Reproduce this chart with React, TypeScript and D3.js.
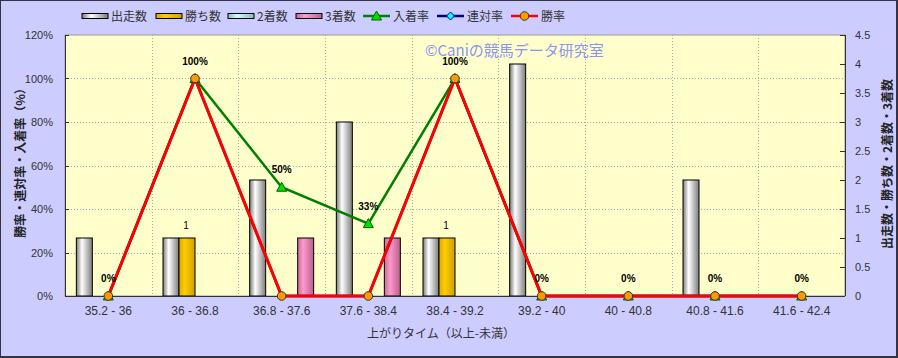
import React from 'react';
import * as d3 from 'd3';

const categories = ['35.2 - 36', '36 - 36.8', '36.8 - 37.6', '37.6 - 38.4', '38.4 - 39.2', '39.2 - 40', '40 - 40.8', '40.8 - 41.6', '41.6 - 42.4'];
const runs = [1, 1, 2, 3, 1, 4, 0, 2, 0];
const wins = [0, 1, 0, 0, 1, 0, 0, 0, 0];
const seconds = [0, 0, 0, 0, 0, 0, 0, 0, 0];
const thirds = [0, 0, 1, 1, 0, 0, 0, 0, 0];
const placeRate = [0, 100, 50, 33.3, 100, 0, 0, 0, 0];
const quinellaRate = [0, 100, 0, 0, 100, 0, 0, 0, 0];
const winRate = [0, 100, 0, 0, 100, 0, 0, 0, 0];
const leftTicks = [0, 20, 40, 60, 80, 100, 120];
const rightTicks = [0, 0.5, 1, 1.5, 2, 2.5, 3, 3.5, 4, 4.5];
const barNames = ['出走数', '勝ち数', '2着数', '3着数'];
const lineNames = ['入着率', '連対率', '勝率'];

const W = 898, H = 358;
const PL = 65, PR = 845, PT = 35, PB = 296;
const JP = '"Noto Sans CJK JP", sans-serif';
const LAT = '"Liberation Sans", Arial, sans-serif';

const barSeries = [runs, wins, seconds, thirds];
const barFills = ['url(#gWhite)', 'url(#gGold)', 'url(#gCyan)', 'url(#gPink)'];

function Triangle({ x, y }: { x: number; y: number }) {
  return <path d={`M${x},${y - 5} L${x + 5},${y + 4} L${x - 5},${y + 4} Z`} fill="#00e000" stroke="#006000" strokeWidth={1} />;
}
function Diamond({ x, y }: { x: number; y: number }) {
  return <path d={`M${x},${y - 4} L${x + 4},${y} L${x},${y + 4} L${x - 4},${y} Z`} fill="#00ffff" stroke="#000080" strokeWidth={1} />;
}
function Circle({ x, y }: { x: number; y: number }) {
  return <circle cx={x} cy={y} r={4.3} fill="#ff9900" stroke="#333" strokeWidth={1} />;
}

export default function App() {
  const x = d3.scaleBand<string>().domain(categories).range([PL, PR]).padding(0);
  const bw = x.bandwidth();
  const groupW = 64;
  const xs = d3.scaleBand<string>().domain(barNames).range([bw / 2 - groupW / 2, bw / 2 + groupW / 2]).padding(0);
  const yL = d3.scaleLinear().domain([0, 120]).range([PB, PT]);
  const yR = d3.scaleLinear().domain([0, 4.5]).range([PB, PT]);
  const cx = (c: string) => (x(c) as number) + bw / 2;
  const line = d3.line<number>().x((_, i) => cx(categories[i])).y((d) => yL(d));
  const pct = d3.format('.0f');

  const legendBars = [82, 156, 228, 296];
  const legendLines = [363, 437, 511];
  const legendY = 16;

  return (
    <svg width={W} height={H} style={{ position: 'absolute', left: 0, top: 0 }}>
      <defs>
        <linearGradient id="gWhite" x1="0" x2="1" y1="0" y2="0">
          <stop offset="0" stopColor="#7a7a7a" />
          <stop offset="0.35" stopColor="#ffffff" />
          <stop offset="1" stopColor="#7c7c7c" />
        </linearGradient>
        <linearGradient id="gGold" x1="0" x2="1" y1="0" y2="0">
          <stop offset="0" stopColor="#d9a800" />
          <stop offset="0.35" stopColor="#ffcc00" />
          <stop offset="1" stopColor="#d0a000" />
        </linearGradient>
        <linearGradient id="gCyan" x1="0" x2="1" y1="0" y2="0">
          <stop offset="0" stopColor="#88bbbb" />
          <stop offset="0.35" stopColor="#ccffff" />
          <stop offset="1" stopColor="#88bbbb" />
        </linearGradient>
        <linearGradient id="gPink" x1="0" x2="1" y1="0" y2="0">
          <stop offset="0" stopColor="#c86a9a" />
          <stop offset="0.35" stopColor="#ff99cc" />
          <stop offset="1" stopColor="#b8608c" />
        </linearGradient>
      </defs>
      <rect x={0} y={0} width={W} height={H} fill="#333344" />
      <rect x={1} y={1} width={W - 3} height={H - 3} fill="#ccccff" />

      {/* legend */}
      {barNames.map((n, i) => (
        <g key={n}>
          <rect x={legendBars[i]} y={legendY - 2.5} width={26} height={5} fill={barFills[i]} stroke="#000" strokeWidth={1} />
          <text x={legendBars[i] + 29} y={legendY + 4.5} fontFamily={JP} fontSize={12} fill="#333">{n}</text>
        </g>
      ))}
      {lineNames.map((n, i) => {
        const lx = legendLines[i];
        const col = ['#008000', '#000080', '#ff0000'][i];
        return (
          <g key={n}>
            <line x1={lx} x2={lx + 27} y1={legendY} y2={legendY} stroke={col} strokeWidth={2.5} />
            {i === 0 && <Triangle x={lx + 13.5} y={legendY} />}
            {i === 1 && <Diamond x={lx + 13.5} y={legendY} />}
            {i === 2 && <Circle x={lx + 13.5} y={legendY} />}
            <text x={lx + 30} y={legendY + 4.5} fontFamily={JP} fontSize={12} fill="#333">{n}</text>
          </g>
        );
      })}

      {/* plot area */}
      <rect x={PL} y={PT} width={PR - PL} height={PB - PT} fill="#ffffcc" stroke="#999" strokeWidth={1} />
      {leftTicks.slice(1, -1).map((t) => (
        <line key={t} x1={PL} x2={PR} y1={Math.round(yL(t)) + 0.5} y2={Math.round(yL(t)) + 0.5} stroke="#aaa" strokeDasharray="1,2" />
      ))}
      {categories.slice(1).map((c) => (
        <line key={c} x1={Math.round(x(c) as number) + 0.5} x2={Math.round(x(c) as number) + 0.5} y1={PT} y2={PB} stroke="#aaa" strokeDasharray="1,2" />
      ))}
      <text x={425} y={56} fontFamily={JP} fontSize={15} fill="#8c94f4">©Caniの競馬データ研究室</text>

      {/* bars */}
      {barSeries.map((s, si) =>
        s.map((v, i) =>
          v > 0 ? (
            <rect key={`${si}-${i}`} x={(x(categories[i]) as number) + (xs(barNames[si]) as number)} y={yR(v)} width={xs.bandwidth()} height={PB - yR(v)} fill={barFills[si]} stroke="#000" strokeWidth={1} />
          ) : null
        )
      )}
      {wins.map((v, i) =>
        v > 0 ? (
          <text key={`wl${i}`} x={(x(categories[i]) as number) + (xs('勝ち数') as number) + xs.bandwidth() / 2 - 1} y={yR(v) - 9} textAnchor="middle" fontFamily={LAT} fontSize={10} fill="#000">{v}</text>
        ) : null
      )}

      {/* axes */}
      <line x1={PL + 0.5} x2={PL + 0.5} y1={PT} y2={PB} stroke="#333" />
      <line x1={PR + 0.5} x2={PR + 0.5} y1={PT} y2={PB} stroke="#333" />
      <line x1={PL} x2={PR} y1={PB + 0.5} y2={PB + 0.5} stroke="#333" />
      {leftTicks.map((t) => (
        <g key={t}>
          <line x1={PL} x2={PL + 4} y1={Math.round(yL(t)) + 0.5} y2={Math.round(yL(t)) + 0.5} stroke="#333" />
          <text x={53} y={yL(t) + 4} textAnchor="end" fontFamily={LAT} fontSize={11} fill="#333">{t}%</text>
        </g>
      ))}
      {rightTicks.map((t) => (
        <g key={t}>
          <line x1={PR - 5} x2={PR} y1={Math.round(yR(t)) + 0.5} y2={Math.round(yR(t)) + 0.5} stroke="#333" />
          <text x={855} y={yR(t) + 4} fontFamily={LAT} fontSize={11} fill="#333">{t}</text>
        </g>
      ))}
      {categories.map((c) => (
        <text key={c} x={cx(c)} y={315} textAnchor="middle" fontFamily={LAT} fontSize={12} fill="#333">{c}</text>
      ))}
      <text x={441} y={338} textAnchor="middle" fontFamily={JP} fontSize={12} fill="#333">上がりタイム（以上-未満）</text>
      <text transform={`translate(25,160) rotate(-90)`} textAnchor="middle" fontFamily={JP} fontSize={12} fontWeight="bold" fill="#222">勝率・連対率・入着率（%）</text>
      <text transform={`translate(892,164) rotate(-90)`} textAnchor="middle" fontFamily={JP} fontSize={12} fontWeight="bold" fill="#222">出走数・勝ち数・2着数・3着数</text>

      {/* lines */}
      <path d={line(placeRate) || ''} fill="none" stroke="#008000" strokeWidth={2.5} />
      <path d={line(quinellaRate) || ''} fill="none" stroke="#000080" strokeWidth={2.5} />
      <path d={line(winRate) || ''} fill="none" stroke="#ff0000" strokeWidth={3} />
      {placeRate.map((v, i) => <Triangle key={`t${i}`} x={cx(categories[i])} y={yL(v)} />)}
      {quinellaRate.map((v, i) => <Diamond key={`d${i}`} x={cx(categories[i])} y={yL(v)} />)}
      {winRate.map((v, i) => <Circle key={`c${i}`} x={cx(categories[i])} y={yL(v)} />)}
      {placeRate.map((v, i) => (
        <text key={`pl${i}`} x={cx(categories[i])} y={yL(v) - 14} textAnchor="middle" fontFamily={LAT} fontSize={10} fontWeight="bold" fill="#000">{pct(v)}%</text>
      ))}
    </svg>
  );
}
